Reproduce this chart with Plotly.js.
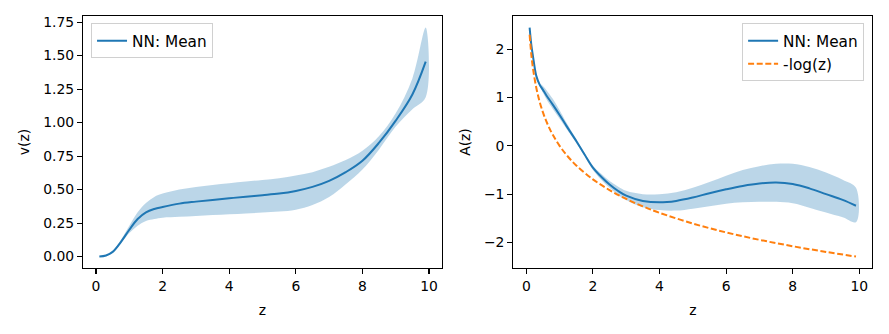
<!DOCTYPE html>
<html><head><meta charset="utf-8">
<script src="https://cdn.plot.ly/plotly-3.0.1.min.js"></script>
<style>body{margin:0;padding:0;background:#fff}#c{width:889px;height:334px}</style>
</head><body><div id="c"></div>
<script>
// Left panel: v(z)
const zLeft = [0.1,0.3,0.5,0.75,1.0,1.25,1.5,1.75,2,2.5,3,3.5,4,4.5,5,5.5,6,6.5,7,7.5,8,8.5,9,9.5,9.9];
const vMean = [0.0,0.008,0.035,0.11,0.2,0.28,0.33,0.355,0.37,0.395,0.41,0.423,0.435,0.447,0.458,0.47,0.49,0.52,0.565,0.63,0.715,0.85,1.015,1.21,1.455];
const vUpper = [0.0,0.01,0.04,0.125,0.23,0.33,0.40,0.445,0.47,0.50,0.52,0.535,0.548,0.56,0.572,0.585,0.605,0.63,0.67,0.72,0.79,0.9,1.07,1.33,1.71];
const vLower = [0.0,0.006,0.03,0.1,0.175,0.23,0.265,0.28,0.29,0.297,0.303,0.31,0.316,0.322,0.328,0.336,0.35,0.385,0.445,0.54,0.65,0.8,0.97,1.1,1.19];

// Right panel: A(z)
const zRight = [0.1,0.15,0.2,0.3,0.4,0.5,0.6,0.8,1.0,1.2,1.5,1.75,2,2.25,2.5,2.75,3,3.5,4,4.5,5,5.5,6,6.5,7,7.5,8,8.5,9,9.5,9.9];
const aMean = [2.45,2.1,1.86,1.45,1.27,1.16,1.05,0.85,0.64,0.42,0.1,-0.18,-0.45,-0.64,-0.8,-0.93,-1.03,-1.14,-1.17,-1.14,-1.07,-0.98,-0.9,-0.83,-0.78,-0.76,-0.79,-0.88,-1.0,-1.12,-1.24];
const aUpper = [2.46,2.11,1.87,1.47,1.31,1.24,1.16,0.97,0.74,0.49,0.14,-0.15,-0.41,-0.58,-0.73,-0.84,-0.93,-1.0,-1.0,-0.96,-0.87,-0.75,-0.62,-0.5,-0.42,-0.37,-0.37,-0.44,-0.55,-0.7,-0.87];
const aLower = [2.44,2.09,1.85,1.43,1.24,1.1,0.97,0.76,0.56,0.36,0.06,-0.21,-0.5,-0.7,-0.87,-1.01,-1.12,-1.27,-1.33,-1.34,-1.3,-1.25,-1.2,-1.17,-1.16,-1.16,-1.19,-1.28,-1.38,-1.48,-1.58];
const zLog = [0.1,0.15,0.2,0.3,0.4,0.5,0.6,0.7,0.8,1.0,1.2,1.5,2,2.5,3,3.5,4,5,6,7,8,9,9.9];
const negLog = [2.303,1.897,1.609,1.204,0.916,0.693,0.511,0.357,0.223,0,-0.182,-0.405,-0.693,-0.916,-1.099,-1.253,-1.386,-1.609,-1.792,-1.946,-2.079,-2.197,-2.293];

const blue = '#1f77b4', orange = '#ff7f0e', band = 'rgba(31,119,180,0.3)';
const rev = a => a.slice().reverse();

const traces = [
  {x: zLeft.concat(rev(zLeft)), y: vUpper.concat(rev(vLower)), type:'scatter', mode:'lines', fill:'toself', fillcolor:band, line:{width:0, shape:'spline'}, showlegend:false, hoverinfo:'skip', xaxis:'x', yaxis:'y'},
  {x: zLeft, y: vMean, type:'scatter', mode:'lines', name:'NN: Mean', line:{color:blue, width:2, shape:'spline'}, xaxis:'x', yaxis:'y', legend:'legend'},
  {x: zRight.concat(rev(zRight)), y: aUpper.concat(rev(aLower)), type:'scatter', mode:'lines', fill:'toself', fillcolor:band, line:{width:0, shape:'spline'}, showlegend:false, hoverinfo:'skip', xaxis:'x2', yaxis:'y2'},
  {x: zRight, y: aMean, type:'scatter', mode:'lines', name:'NN: Mean', line:{color:blue, width:2, shape:'spline'}, xaxis:'x2', yaxis:'y2', legend:'legend2'},
  {x: zLog, y: negLog, type:'scatter', mode:'lines', name:'-log(z)', line:{color:orange, width:2, dash:'6px,2.6px', shape:'spline'}, xaxis:'x2', yaxis:'y2', legend:'legend2'}
];

const font = {family:'DejaVu Sans, sans-serif', size:13.9, color:'#000'};
const legFont = {family:'DejaVu Sans, sans-serif', size:15.3, color:'#000'};
const axBase = {showline:true, mirror:true, linecolor:'#000', linewidth:1.1, ticks:'outside', ticklen:5, tickwidth:1.1, tickcolor:'#000', showgrid:false, zeroline:false, automargin:false, tickfont:font};
const legBase = {bgcolor:'rgba(255,255,255,0.8)', bordercolor:'#d0d0d0', borderwidth:1, font:legFont, yanchor:'top', y:0.93, tracegroupgap:0};

const layout = {
  width:889, height:334, margin:{l:0,r:0,t:0,b:0}, paper_bgcolor:'#fff', plot_bgcolor:'#fff', font:font,
  xaxis: Object.assign({}, axBase, {domain:[0.0934,0.4972], range:[-0.39,10.39], tickvals:[0,2,4,6,8,10], anchor:'y', title:{text:'z', font:font, standoff:12}}),
  yaxis: Object.assign({}, axBase, {domain:[0.1976,0.952], range:[-0.0855,1.7955], tickvals:[0,0.25,0.5,0.75,1,1.25,1.5,1.75], tickformat:'.2f', anchor:'x', title:{text:'v(z)', font:font, standoff:10}}),
  xaxis2: Object.assign({}, axBase, {domain:[0.5774,0.9812], range:[-0.39,10.39], tickvals:[0,2,4,6,8,10], anchor:'y2', title:{text:'z', font:font, standoff:12}}),
  yaxis2: Object.assign({}, axBase, {domain:[0.1976,0.952], range:[-2.53,2.69], tickvals:[-2,-1,0,1,2], anchor:'x2', title:{text:'A(z)', font:font, standoff:10}}),
  legend: Object.assign({}, legBase, {x:0.1024, xanchor:'left'}),
  legend2: Object.assign({}, legBase, {x:0.972, xanchor:'right'})
};

Plotly.newPlot('c', traces, layout, {staticPlot:true, displayModeBar:false});
</script></body></html>
